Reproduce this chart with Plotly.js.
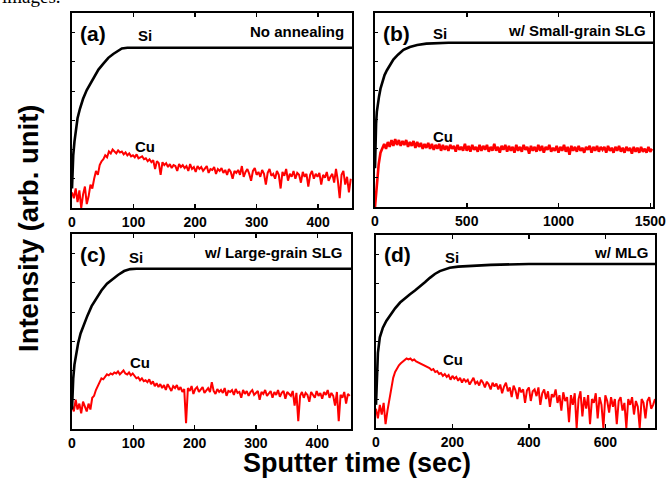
<!DOCTYPE html>
<html><head><meta charset="utf-8">
<script src="https://cdn.plot.ly/plotly-3.0.1.min.js"></script>
<style>html,body{margin:0;padding:0;background:#fff}#chart{width:672px;height:478px}</style>
</head><body><div id="chart"></div>
<script>
// ---- Panel (a): No annealing ----
const siA_t = [0,1,2,4,6,9,13,18,24,30,36,43,51,59,67,74,81,90,100,455];
const siA_v = [0.10,0.20,0.27,0.34,0.40,0.46,0.51,0.56,0.605,0.64,0.675,0.71,0.74,0.77,0.79,0.805,0.818,0.822,0.822,0.822];
const cuA_step = 3;
const cuA_v = [0.08,0.05,0.10,0.03,0.09,0.00,0.07,0.11,0.02,
 0.06,0.12,0.10,
 0.15,0.19,0.17,0.22,0.24,
 0.25,0.27,0.26,0.29,0.28,
 0.30,0.29,0.28,0.295,0.285,0.29,0.275,0.285,0.27,
 0.28,0.265,0.27,0.26,0.275,0.255,0.26,0.265,0.25,0.255,
 0.24,0.25,0.235,0.245,0.20,0.24,0.23,0.17,0.235,0.22,
 0.23,0.21,0.225,0.205,0.22,0.215,0.19,0.225,0.21,0.22,
 0.205,0.215,0.19,0.225,0.20,0.21,0.185,0.215,0.20,0.21,
 0.19,0.205,0.215,0.18,0.20,0.195,0.21,0.175,0.20,0.19,
 0.205,0.18,0.195,0.17,0.20,0.185,0.15,0.19,0.18,0.195,
 0.17,0.215,0.16,0.185,0.20,0.175,0.14,0.19,0.205,0.17,
 0.185,0.16,0.195,0.175,0.12,0.18,0.20,0.165,0.175,0.15,
 0.19,0.17,0.10,0.185,0.165,0.20,0.14,0.175,0.16,0.19,
 0.15,0.18,0.17,0.13,0.185,0.16,0.175,0.11,0.17,0.19,
 0.15,0.175,0.16,0.18,0.12,0.17,0.155,0.185,0.14,0.16,
 0.175,0.13,0.20,0.14,0.05,0.17,0.19,0.12,0.16,0.08,0.15];

// ---- Panel (b): w/ Small-grain SLG ----
const siB_t = [0,3,6,10,15,22,30,40,52,65,80,100,125,155,190,230,280,340,400,1515];
const siB_v = [0.20,0.35,0.43,0.49,0.53,0.57,0.61,0.645,0.68,0.705,0.73,0.76,0.785,0.81,0.825,0.835,0.842,0.846,0.847,0.847];
const cuB_step = 10;
const cuB_v = [0.00,0.12,0.22,0.28,0.30,0.325,0.30,0.335,0.31,0.345,
 0.315,0.35,0.32,0.345,0.315,0.34,0.32,0.345,0.31,0.335,
 0.315,0.34,0.305,0.335,0.31,0.33,0.30,0.325,0.305,0.33,
 0.30,0.325,0.295,0.32,0.30,0.325,0.29,0.32,0.295,0.315,
 0.29,0.32,0.30,0.315,0.285,0.32,0.295,0.31,0.29,0.325,
 0.29,0.315,0.285,0.32,0.295,0.31,0.285,0.32,0.29,0.315,
 0.295,0.32,0.285,0.31,0.29,0.325,0.29,0.31,0.28,0.315,
 0.295,0.32,0.285,0.315,0.29,0.31,0.28,0.32,0.29,0.31,
 0.285,0.32,0.295,0.31,0.275,0.315,0.29,0.31,0.285,0.32,
 0.29,0.315,0.28,0.31,0.295,0.32,0.285,0.305,0.29,0.315,
 0.28,0.31,0.29,0.32,0.285,0.31,0.27,0.315,0.29,0.31,
 0.285,0.315,0.29,0.305,0.28,0.31,0.295,0.315,0.28,0.31,
 0.29,0.315,0.285,0.31,0.295,0.31,0.28,0.315,0.29,0.305,
 0.28,0.31,0.29,0.315,0.285,0.305,0.28,0.31,0.29,0.305,
 0.275,0.31,0.285,0.305,0.28,0.31,0.285,0.30,0.28,0.31,
 0.285,0.30];

// ---- Panel (c): w/ Large-grain SLG ----
const siC_t = [0,1,2,4,7,10,14,19,25,32,40,48,57,66,75,85,95,105,455];
const siC_v = [0.10,0.20,0.26,0.33,0.39,0.44,0.49,0.535,0.58,0.63,0.67,0.71,0.745,0.77,0.79,0.81,0.82,0.822,0.822];
const cuC_step = 3;
const cuC_v = [0.12,0.09,0.15,0.10,0.13,0.08,0.14,0.11,0.09,
 0.13,0.10,0.16,
 0.17,0.20,0.22,0.24,0.26,
 0.255,0.27,0.28,0.275,0.285,
 0.28,0.29,0.285,0.295,0.28,0.29,0.30,0.285,0.28,
 0.29,0.275,0.285,0.27,0.26,0.265,0.25,0.26,0.245,0.25,
 0.24,0.255,0.23,0.245,0.22,0.235,0.215,0.23,0.21,0.225,
 0.20,0.23,0.215,0.195,0.22,0.21,0.225,0.20,0.215,0.19,
 0.205,0.03,0.21,0.195,0.22,0.18,0.205,0.215,0.19,0.20,
 0.215,0.185,0.20,0.21,0.19,0.24,0.195,0.18,0.205,0.19,
 0.20,0.185,0.21,0.17,0.195,0.19,0.20,0.175,0.205,0.185,
 0.19,0.16,0.20,0.18,0.195,0.17,0.19,0.20,0.175,0.185,
 0.195,0.15,0.19,0.18,0.20,0.17,0.185,0.195,0.16,0.19,
 0.175,0.20,0.165,0.185,0.195,0.155,0.19,0.18,0.17,0.195,
 0.12,0.185,0.04,0.17,0.19,0.16,0.185,0.175,0.14,0.19,
 0.175,0.16,0.195,0.17,0.185,0.155,0.19,0.175,0.20,0.16,
 0.185,0.17,0.12,0.19,0.04,0.175,0.16,0.19,0.13,0.18,0.17];

// ---- Panel (d): w/ MLG ----
const siD_t = [0,2,5,10,18,27,37,50,63,76,89,102,115,128,141,154,167,180,193,215,245,300,400,730];
const siD_v = [0.12,0.28,0.39,0.47,0.52,0.555,0.585,0.62,0.65,0.673,0.693,0.712,0.732,0.755,0.778,0.798,0.813,0.823,0.83,0.836,0.84,0.845,0.85,0.85];
const cuD_step = 5;
const cuD_v = [0.10,0.05,0.12,0.07,0.13,0.02,0.09,0.15,
 0.21,0.26,0.29,0.31,0.325,
 0.335,0.345,0.35,0.36,0.355,
 0.36,0.35,0.355,0.345,0.34,0.335,
 0.33,0.325,0.32,0.315,0.31,0.30,0.305,0.29,0.295,0.28,
 0.285,0.27,0.28,0.265,0.275,0.25,0.27,0.255,0.265,0.245,
 0.26,0.235,0.255,0.24,0.25,0.225,0.245,0.26,0.23,0.24,
 0.22,0.25,0.235,0.21,0.24,0.225,0.20,0.235,0.215,0.23,
 0.20,0.225,0.18,0.215,0.235,0.19,0.21,0.16,0.22,0.195,
 0.15,0.21,0.185,0.20,0.13,0.195,0.21,0.14,0.19,0.20,
 0.165,0.21,0.12,0.18,0.20,0.15,0.19,0.11,0.175,0.16,
 0.20,0.13,0.17,0.09,0.185,0.14,0.16,0.03,0.17,0.12,
 0.18,0.00,0.15,0.19,0.06,0.16,0.10,0.17,0.02,0.15,
 0.13,0.18,0.05,0.16,0.12,0.00,0.17,0.14,0.08,0.16,
 0.11,0.15,0.02,0.14,0.16,0.09,0.13,0.00,0.15,0.12,
 0.16,0.07,0.14,0.11,0.00,0.15,0.13,0.05,0.14,0.16,0.10,0.12,0.15];

const panelTags = ['(a)','(b)','(c)','(d)'];
const panelNotes = ['No annealing','w/ Small-grain SLG','w/ Large-grain SLG','w/ MLG'];
const xRanges = [[0,455],[0,1515],[0,455],[0,730]];
const xTicks = [[0,100,200,300,400],[0,500,1000,1500],[0,100,200,300,400],[0,200,400,600]];

const SI_COLOR = '#000000', CU_COLOR = '#ff0000';
const siW = 2.6;
const cuW = [2.0, 2.6, 2.0, 2.0];

function si(t, v, n){ return {x:t, y:v, xaxis:'x'+(n>1?n:''), yaxis:'y'+(n>1?n:''), mode:'lines', line:{color:SI_COLOR,width:siW}, showlegend:false, hoverinfo:'skip'}; }
function cu(step, v, n){ return {x0:0, dx:step, y:v, xaxis:'x'+(n>1?n:''), yaxis:'y'+(n>1?n:''), mode:'lines', line:{color:CU_COLOR,width:cuW[n-1]}, showlegend:false, hoverinfo:'skip'}; }

const data = [
  cu(cuA_step,cuA_v,1), si(siA_t,siA_v,1),
  cu(cuB_step,cuB_v,2), si(siB_t,siB_v,2),
  cu(cuC_step,cuC_v,3), si(siC_t,siC_v,3),
  cu(cuD_step,cuD_v,4), si(siD_t,siD_v,4)
];

const W = 672, H = 478;
// panel frames in pixels [left,right,top,bottom]
const boxes = [[72,352,13,208],[375,653,13,207],[72,351,234,429],[376,655,235,428]];
const tickFont = {family:'Liberation Sans, Arial, sans-serif', size:14, color:'#000', weight:'bold'};

const layout = {
  width:W, height:H, margin:{l:0,r:0,t:0,b:0},
  paper_bgcolor:'#fff', plot_bgcolor:'#fff', showlegend:false,
  annotations:[], font:{family:'Liberation Sans, Arial, sans-serif', color:'#000'}
};
boxes.forEach((b,i)=>{
  const n = i+1, s = n>1?n:'';
  layout['xaxis'+s] = {
    domain:[b[0]/W, b[1]/W], anchor:'y'+s, range:xRanges[i], tickvals:xTicks[i],
    showline:true, linewidth:2, linecolor:'#000', mirror:'allticks', ticks:'inside', ticklen:4, tickwidth:1.5, tickcolor:'#000',
    showgrid:false, zeroline:false, tickfont:tickFont, ticklabelstandoff:0
  };
  layout['yaxis'+s] = {
    domain:[1-b[3]/H, 1-b[2]/H], anchor:'x'+s, range:[0,1],
    showline:true, linewidth:2, linecolor:'#000', mirror:true, ticks:'inside', ticklen:3, tickwidth:1, tickcolor:'#000',
    dtick:0.15, showticklabels:false, showgrid:false, zeroline:false
  };
});

function ann(text, px, py, size, xanchor){
  layout.annotations.push({text:text, xref:'paper', yref:'paper', x:px/W, y:1-py/H, xanchor:xanchor||'center', yanchor:'middle', showarrow:false,
    font:{family:'Liberation Sans, Arial, sans-serif', size:size, color:'#000', weight:'bold'}});
}
// panel tags
ann(panelTags[0], 93, 33, 21); ann(panelTags[1], 396, 33, 21); ann(panelTags[2], 93, 254, 21); ann(panelTags[3], 397, 254, 21);
// notes
ann(panelNotes[0], 346, 32, 15, 'right'); ann(panelNotes[1], 648, 31, 15, 'right'); ann(panelNotes[2], 345, 252, 15, 'right'); ann(panelNotes[3], 650, 252, 15, 'right');
// element labels
ann('Si', 145, 35, 15); ann('Cu', 145, 146, 15);
ann('Si', 440, 33, 15); ann('Cu', 443, 136, 15);
ann('Si', 136, 257, 15); ann('Cu', 140, 362, 15);
ann('Si', 452, 257, 15); ann('Cu', 453, 359, 15);
// axis titles
layout.annotations.push({text:'Sputter time (sec)', xref:'paper', yref:'paper', x:357/W, y:1-463/H, xanchor:'center', yanchor:'middle', showarrow:false, borderpad:0,
  font:{family:'Liberation Sans, Arial, sans-serif', size:27, color:'#000', weight:'bold'}});
layout.annotations.push({text:'Intensity (arb. unit)', xref:'paper', yref:'paper', x:28/W, y:1-228/H, textangle:-90, showarrow:false,
  xanchor:'center', yanchor:'middle', font:{family:'Liberation Sans, Arial, sans-serif', size:27.5, color:'#000', weight:'bold'}});
// cropped caption text fragment at top
layout.annotations.push({text:'images.', xref:'paper', yref:'paper', x:0, y:1-9/H, xanchor:'left', yanchor:'bottom', showarrow:false,
  font:{family:'Liberation Serif, Times New Roman, serif', size:19, color:'#000'}});

Plotly.newPlot('chart', data, layout, {staticPlot:true, displayModeBar:false});
</script>
</body></html>
